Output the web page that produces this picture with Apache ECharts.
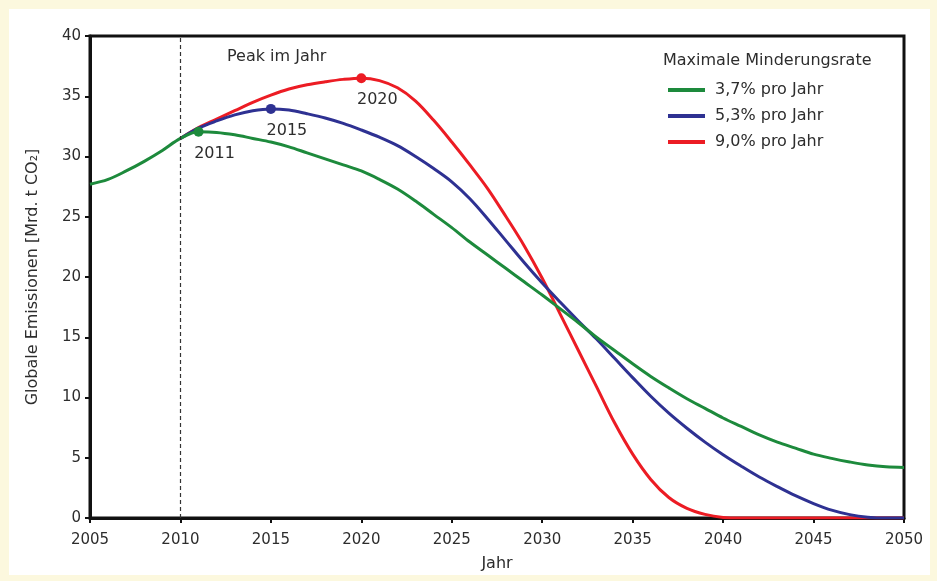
<!DOCTYPE html>
<html>
<head>
<meta charset="utf-8">
<script src="https://cdn.jsdelivr.net/npm/echarts@6/dist/echarts.min.js"></script>
<style>
html,body{margin:0;padding:0;background:#fcf8de;}
#c{width:937px;height:581px;}
</style>
</head>
<body>
<div id="c"></div>
<script>
var years = [2005,2006,2007,2008,2009,2010,2011,2012,2013,2014,2015,2016,2017,2018,2019,2020,2021,2022,2023,2024,2025,2026,2027,2028,2029,2030,2031,2032,2033,2034,2035,2036,2037,2038,2039,2040,2041,2042,2043,2044,2045,2046,2047,2048,2049,2050];
var green37 = [27.7,28.1,28.8,29.6,30.5,31.5,32.05,32.0,31.8,31.5,31.2,30.8,30.3,29.8,29.3,28.8,28.1,27.3,26.3,25.2,24.1,22.9,21.8,20.7,19.6,18.5,17.35,16.2,15.0,13.9,12.8,11.75,10.8,9.9,9.1,8.3,7.6,6.9,6.3,5.8,5.3,4.95,4.65,4.4,4.25,4.2];
var blue53 = [null,null,null,null,null,31.5,32.35,32.95,33.45,33.8,33.95,33.85,33.55,33.2,32.75,32.2,31.6,30.9,30.0,29.0,27.9,26.5,24.8,23.0,21.2,19.5,17.9,16.35,14.85,13.25,11.65,10.1,8.7,7.45,6.3,5.25,4.3,3.4,2.6,1.85,1.2,0.65,0.28,0.07,0,0];
var red90 = [null,null,null,null,null,31.5,32.4,33.1,33.8,34.5,35.1,35.6,35.95,36.2,36.4,36.5,36.3,35.7,34.6,33.0,31.2,29.3,27.3,25.0,22.6,19.9,16.9,13.9,10.9,7.9,5.3,3.2,1.7,0.8,0.3,0.05,0,0,0,0,0,0,0,0,0,0];
var seriesNames = ['3,7% pro Jahr','5,3% pro Jahr','9,0% pro Jahr'];
var peakYears = [2011, 2015, 2020];
var peakValues = [32.05, 33.95, 36.5];
var xTicks = {min: 2005, max: 2050, interval: 5};
var yTicks = {min: 0, max: 40, interval: 5};

function pairs(vals){
  var out = [];
  for (var i = 0; i < years.length; i++) if (vals[i] !== null) out.push([years[i], vals[i]]);
  return out;
}
var colors = ['#1d8a3c','#2e3192','#ec1c24'];
var font = '"DejaVu Sans", Verdana, sans-serif';
var txt = '#2d2d2d';

function mp(i){
  return {
    symbol: 'circle', symbolSize: 10, silent: true,
    itemStyle: {color: colors[i]},
    label: {show: true, position: 'bottom', distance: 2, offset: [16, 7], formatter: String(peakYears[i]), color: txt, fontSize: 16, fontFamily: font},
    data: [{coord: [peakYears[i], peakValues[i]]}]
  };
}

var chart = echarts.init(document.getElementById('c'));
chart.setOption({
  backgroundColor: '#fcf8de',
  animation: false,
  graphic: [
    {type: 'rect', z: -10, shape: {x: 9, y: 9, width: 921, height: 566}, style: {fill: '#ffffff'}},
    {type: 'text', left: 227, top: 49, style: {text: 'Peak im Jahr', fill: txt, font: '16px ' + font}},
    {type: 'text', left: 663, top: 53, style: {text: 'Maximale Minderungsrate', fill: txt, font: '16px ' + font}}
  ],
  grid: {left: 90, right: 33, top: 36, bottom: 63, show: true, borderColor: '#111', borderWidth: 3, backgroundColor: '#fff'},
  legend: {
    data: seriesNames, orient: 'vertical', left: 663, top: 76,
    icon: 'rect', itemWidth: 37, itemHeight: 4, itemGap: 8,
    textStyle: {fontSize: 16, fontFamily: font, color: txt, padding: [0,0,0,5], lineHeight: 18}
  },
  xAxis: {
    type: 'value', min: xTicks.min, max: xTicks.max, interval: xTicks.interval,
    name: 'Jahr', nameLocation: 'middle', nameGap: 38,
    nameTextStyle: {fontSize: 16, fontFamily: font, color: txt},
    axisLine: {lineStyle: {color: '#111', width: 3}},
    axisTick: {show: true, length: 5, lineStyle: {color: '#111', width: 2}},
    axisLabel: {fontSize: 15, fontFamily: font, color: txt, margin: 15, formatter: function(v){return String(v);}},
    splitLine: {show: false}
  },
  yAxis: {
    type: 'value', min: yTicks.min, max: yTicks.max, interval: yTicks.interval,
    name: 'Globale Emissionen [Mrd. t CO\u2082]', nameLocation: 'middle', nameGap: 49,
    nameTextStyle: {fontSize: 16, fontFamily: font, color: txt},
    axisLine: {show: true, lineStyle: {color: '#111', width: 3}},
    axisTick: {show: true, length: 5, lineStyle: {color: '#111', width: 2}},
    axisLabel: {fontSize: 15, fontFamily: font, color: txt, margin: 9},
    splitLine: {show: false}
  },
  series: [
    {name: seriesNames[2], type: 'line', data: pairs(red90), smooth: 0.35, showSymbol: false,
     lineStyle: {color: colors[2], width: 3}, itemStyle: {color: colors[2]}, markPoint: mp(2), z: 2},
    {name: seriesNames[1], type: 'line', data: pairs(blue53), smooth: 0.35, showSymbol: false,
     lineStyle: {color: colors[1], width: 3}, itemStyle: {color: colors[1]}, markPoint: mp(1), z: 3},
    {name: seriesNames[0], type: 'line', data: pairs(green37), smooth: 0.35, showSymbol: false,
     lineStyle: {color: colors[0], width: 3}, itemStyle: {color: colors[0]}, markPoint: mp(0), z: 4,
     markLine: {silent: true, symbol: 'none', label: {show: false},
       lineStyle: {color: '#333', type: [4, 3], width: 1.2}, data: [{xAxis: 2010}]}}
  ]
});
</script>
</body>
</html>
